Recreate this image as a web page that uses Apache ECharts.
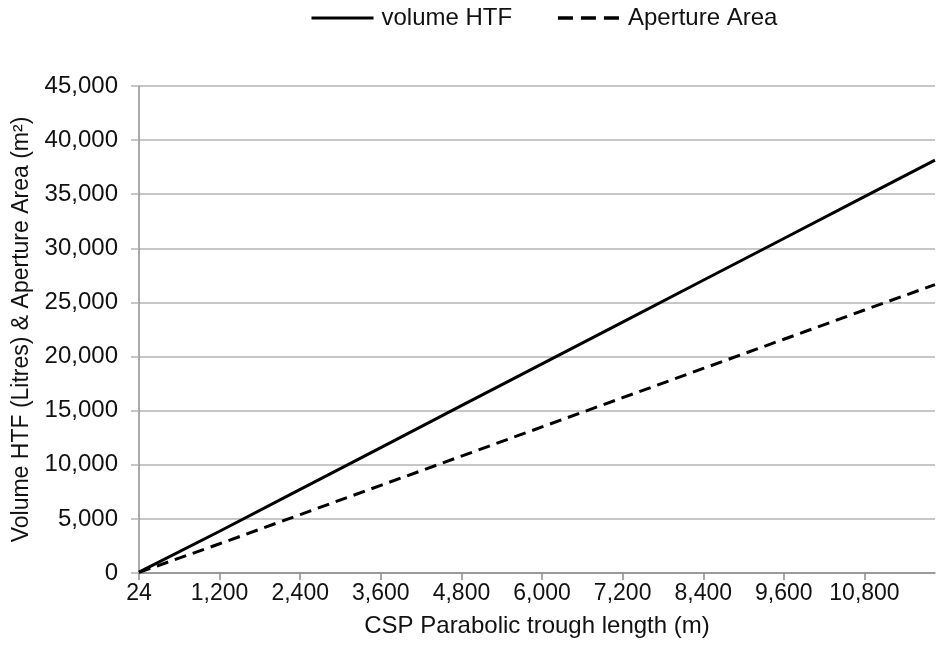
<!DOCTYPE html>
<html>
<head>
<meta charset="utf-8">
<script src="https://cdn.jsdelivr.net/npm/echarts@6/dist/echarts.min.js"></script>
<style>
  html, body { margin: 0; padding: 0; background: #fff; }
  #chart { width: 937px; height: 653px; }
</style>
</head>
<body>
<div id="chart"></div>
<script>
// Trough length categories (m), evenly spaced on the axis
const lengths = [
  24, 150, 300, 450, 600, 750, 900, 1050,
  1200, 1350, 1500, 1650, 1800, 1950, 2100, 2250,
  2400, 2550, 2700, 2850, 3000, 3150, 3300, 3450,
  3600, 3750, 3900, 4050, 4200, 4350, 4500, 4650,
  4800, 4950, 5100, 5250, 5400, 5550, 5700, 5850,
  6000, 6150, 6300, 6450, 6600, 6750, 6900, 7050,
  7200, 7350, 7500, 7650, 7800, 7950, 8100, 8250,
  8400, 8550, 8700, 8850, 9000, 9150, 9300, 9450,
  9600, 9750, 9900, 10050, 10200, 10350, 10500, 10650,
  10800, 10950, 11100, 11250, 11400, 11550, 11700, 11850
];

// Lengths at which values are plotted
const sampleLengths = [24, 1200, 2400, 3600, 4800, 6000, 7200, 8400, 9600, 10800, 11850];
// HTF volume (litres)
const volumeHTF = [80, 3860, 7730, 11590, 15460, 19320, 23180, 27050, 30910, 34780, 38150];
// Collector aperture area (m²)
const apertureArea = [55, 2700, 5400, 8100, 10800, 13500, 16200, 18900, 21600, 24300, 26650];

const yTicks = { min: 0, max: 45000, interval: 5000 };

const fmt = v => Number(v).toLocaleString('en-US');
const pairs = vals => sampleLengths.map((l, i) => [String(l), vals[i]]);

const FONT = 'Liberation Sans, Arial, sans-serif';
const chart = echarts.init(document.getElementById('chart'), null, { renderer: 'canvas' });

chart.setOption({
  animation: false,
  backgroundColor: '#ffffff',
  textStyle: { fontFamily: FONT, color: '#111' },
  legend: {
    top: 1,
    left: 305,
    itemWidth: 62,
    itemHeight: 14,
    itemGap: 44,
    itemStyle: { color: 'transparent', borderWidth: 0 },
    textStyle: { fontFamily: FONT, fontSize: 24, color: '#111', padding: [0, 0, 0, 3] },
    data: [
      { name: 'volume HTF', lineStyle: { width: 3 } },
      { name: 'Aperture Area', lineStyle: { width: 3.5, type: [15, 8] } }
    ]
  },
  grid: { left: 139, right: 2, top: 86, bottom: 80, containLabel: false },
  xAxis: {
    type: 'category',
    boundaryGap: false,
    data: lengths.map(String),
    name: 'CSP Parabolic trough length (m)',
    nameLocation: 'middle',
    nameGap: 41,
    nameMoveOverlap: false,
    nameTextStyle: { fontFamily: FONT, fontSize: 24, color: '#111', verticalAlign: 'top', lineHeight: 24 },
    axisLine: { lineStyle: { color: '#8c8c8c', width: 1.5 } },
    axisTick: { show: true, interval: 7, length: 7, lineStyle: { color: '#8c8c8c', width: 1.5 } },
    axisLabel: {
      interval: 7, margin: 9, fontFamily: FONT, fontSize: 23, color: '#111',
      formatter: v => fmt(v)
    },
    splitLine: { show: false }
  },
  yAxis: {
    type: 'value',
    min: yTicks.min, max: yTicks.max, interval: yTicks.interval,
    name: 'Volume HTF (Litres) & Aperture Area (m²)',
    nameLocation: 'middle',
    nameGap: 106,
    nameTextStyle: { fontFamily: FONT, fontSize: 23, color: '#111' },
    axisLine: { show: true, lineStyle: { color: '#8c8c8c', width: 1.5 } },
    axisTick: { show: true, length: 8, lineStyle: { color: '#b4b4b4', width: 1.5 } },
    axisLabel: { margin: 21, fontFamily: FONT, fontSize: 24, color: '#111', formatter: v => fmt(v) },
    splitLine: { show: true, lineStyle: { color: '#b4b4b4', width: 1.5 } }
  },
  series: [
    {
      name: 'volume HTF',
      type: 'line',
      data: pairs(volumeHTF),
      symbol: 'none',
      lineStyle: { color: '#000', width: 3, type: 'solid' },
      itemStyle: { color: '#000' }
    },
    {
      name: 'Aperture Area',
      type: 'line',
      data: pairs(apertureArea),
      symbol: 'none',
      lineStyle: { color: '#000', width: 3, type: [12, 7] },
      itemStyle: { color: '#000' }
    }
  ]
});
</script>
</body>
</html>
